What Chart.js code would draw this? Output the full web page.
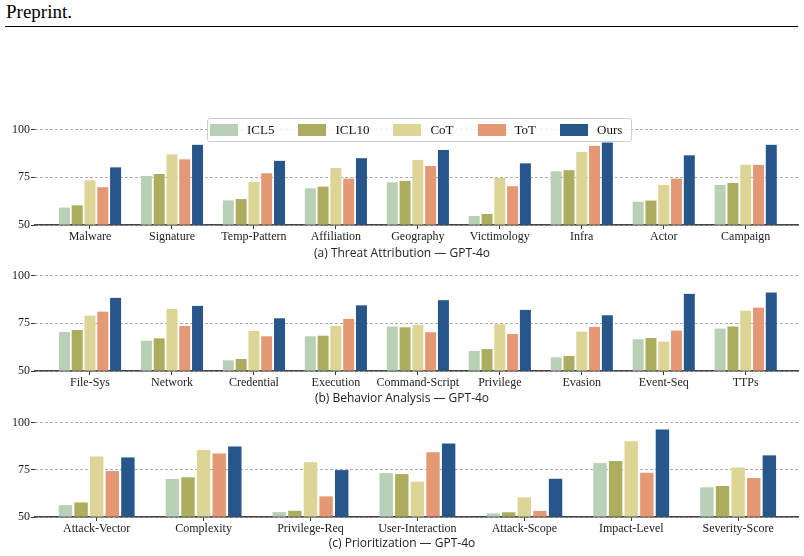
<!DOCTYPE html>
<html lang="en">
<head>
  <meta charset="UTF-8">
  <title>Threat analysis results — GPT-4o</title>
  <script src="https://cdn.jsdelivr.net/npm/chart.js"></script>
  <style>
    body {
      margin: 0;
      background: #fff;
    }
    #page {
      position: relative;
      width: 804px;
      height: 556px;
      overflow: hidden;
    }
    #page canvas {
      position: absolute;
      left: 0;
    }
    .header {
      position: absolute;
      left: 6px;
      top: 1px;
      font: 19px "Liberation Serif", "Times New Roman", serif;
      line-height: 22px;
      color: #000;
    }
    .rule {
      position: absolute;
      left: 5px;
      top: 26px;
      width: 793px;
      border-top: 1px solid #000;
    }
    .caption {
      position: absolute;
      left: 0;
      width: 804px;
      text-align: center;
      font: 12px "Open Sans", sans-serif;
      line-height: 16px;
      color: #222;
    }
    #legend {
      position: absolute;
      left: 207px;
      top: 118px;
      width: 421px;
      height: 22px;
      border: 1px solid #d0d0d0;
      border-radius: 3px;
      background: rgba(255, 255, 255, 0.8);
      display: flex;
      align-items: center;
      padding-left: 2px;
      z-index: 2;
      font: 13px "Liberation Serif", "Times New Roman", serif;
      color: #111;
    }
    .item {
      display: flex;
      align-items: center;
      margin-right: 24px;
    }
    .swatch {
      width: 28px;
      height: 12px;
      margin-right: 9px;
    }
  </style>
</head>
<body>
  <div id="page">
    <div class="header">Preprint.</div>
    <div class="rule"></div>

    <canvas id="chart-a" width="804" height="135" style="top:110px"></canvas>
    <canvas id="chart-b" width="804" height="135" style="top:256px"></canvas>
    <canvas id="chart-c" width="804" height="134" style="top:403px"></canvas>

    <div id="legend"></div>

    <div class="caption" style="top:245px">(a) Threat Attribution — GPT-4o</div>
    <div class="caption" style="top:390px">(b) Behavior Analysis — GPT-4o</div>
    <div class="caption" style="top:535px">(c) Prioritization — GPT-4o</div>
  </div>

  <script>
    // 系列
    const seriesNames = ['ICL5', 'ICL10', 'CoT', 'ToT', 'Ours'];
    const seriesColors = ['#b8d0b6', '#adad60', '#ddd595', '#e49874', '#27568b'];
    const yTicks = [50, 75, 100];

    // (a) Threat Attribution
    const attrCategories = ['Malware', 'Signature', 'Temp-Pattern', 'Affiliation', 'Geography',
                            'Victimology', 'Infra', 'Actor', 'Campaign'];
    const attrICL5  = [59.1, 75.7, 62.9, 69.2, 72.4, 54.7, 78.1, 62.2, 71.0];
    const attrICL10 = [60.3, 76.7, 63.6, 70.1, 73.1, 55.8, 78.7, 62.8, 72.0];
    const attrCoT   = [73.4, 87.0, 72.6, 79.9, 84.1, 74.7, 88.3, 71.0, 81.6];
    const attrToT   = [69.8, 84.4, 77.1, 74.3, 80.9, 70.3, 91.4, 74.3, 81.5];
    const attrOurs  = [80.2, 92.0, 83.6, 85.0, 89.3, 82.3, 93.2, 86.5, 92.0];

    // (b) Behavior Analysis
    const behCategories = ['File-Sys', 'Network', 'Credential', 'Execution', 'Command-Script',
                           'Privilege', 'Evasion', 'Event-Seq', 'TTPs'];
    const behICL5  = [70.5, 65.9, 55.6, 68.2, 73.3, 60.5, 57.2, 66.6, 72.2];
    const behICL10 = [71.5, 67.1, 56.3, 68.5, 72.9, 61.5, 57.9, 67.3, 73.3];
    const behCoT   = [79.0, 82.5, 71.0, 73.6, 74.1, 74.5, 70.6, 65.4, 81.6];
    const behToT   = [81.1, 73.6, 68.2, 77.3, 70.3, 69.4, 73.1, 71.2, 83.2];
    const behOurs  = [88.3, 84.1, 77.6, 84.4, 87.1, 82.0, 79.2, 90.4, 91.1];

    // (c) Prioritization
    const prioCategories = ['Attack-Vector', 'Complexity', 'Privilege-Req', 'User-Interaction',
                            'Attack-Scope', 'Impact-Level', 'Severity-Score'];
    const prioICL5  = [56.3, 70.1, 52.6, 73.2, 51.9, 78.5, 65.7];
    const prioICL10 = [57.7, 71.0, 53.3, 72.7, 52.5, 79.6, 66.4];
    const prioCoT   = [82.0, 85.4, 79.0, 68.7, 60.4, 90.1, 76.2];
    const prioToT   = [74.3, 83.6, 60.9, 84.3, 53.2, 73.4, 70.6];
    const prioOurs  = [81.5, 87.3, 74.8, 88.9, 70.2, 96.3, 82.6];

    const serifFont = { family: '"Liberation Serif", "Times New Roman", serif', size: 12 };

    function makeChart(canvasId, categories, rows, xMin, xMax, groupPct) {
      const datasets = rows.map((values, k) => ({
        label: seriesNames[k],
        data: values.map((v, i) => ({ x: i, y: v })),
        backgroundColor: seriesColors[k],
        borderWidth: 0,
        base: 50,
        categoryPercentage: groupPct,
        barPercentage: 0.86
      }));

      return new Chart(document.getElementById(canvasId), {
        type: 'bar',
        data: { datasets: datasets },
        options: {
          responsive: false,
          animation: false,
          devicePixelRatio: 1,
          layout: { padding: { top: 10, right: 6, left: 0, bottom: 0 } },
          plugins: {
            legend: { display: false },
            tooltip: { enabled: false }
          },
          scales: {
            x: {
              type: 'linear',
              min: xMin,
              max: xMax,
              offset: false,
              afterBuildTicks: (scale) => {
                scale.ticks = categories.map((c, i) => ({ value: i }));
              },
              afterFit: (scale) => { scale.height = 20; },
              ticks: {
                autoSkip: false,
                maxRotation: 0,
                padding: 1,
                color: '#222',
                font: serifFont,
                callback: (value) => categories[value]
              },
              grid: {
                offset: false,
                drawOnChartArea: false,
                tickLength: 4,
                tickColor: '#333',
                tickWidth: 1
              },
              border: { display: true, color: '#444', width: 1.5 }
            },
            y: {
              min: 50,
              max: 105,
              afterBuildTicks: (scale) => {
                scale.ticks = yTicks.map(v => ({ value: v }));
              },
              afterFit: (scale) => { scale.width = 35; },
              ticks: { padding: 1, color: '#222', font: serifFont },
              grid: {
                color: '#999',
                lineWidth: 0.8,
                tickLength: 4,
                tickColor: '#333',
                tickWidth: 1,
                tickBorderDash: []
              },
              border: { display: false, dash: [3, 2] }
            }
          }
        }
      });
    }

    makeChart('chart-a', attrCategories, [attrICL5, attrICL10, attrCoT, attrToT, attrOurs], -0.671, 8.638, 0.78);
    makeChart('chart-b', behCategories, [behICL5, behICL10, behCoT, behToT, behOurs], -0.671, 8.638, 0.78);
    makeChart('chart-c', prioCategories, [prioICL5, prioICL10, prioCoT, prioToT, prioOurs], -0.577, 6.56, 0.73);

    // 凡例
    const legend = document.getElementById('legend');
    seriesNames.forEach((name, k) => {
      const item = document.createElement('div');
      item.className = 'item';
      const swatch = document.createElement('span');
      swatch.className = 'swatch';
      swatch.style.background = seriesColors[k];
      const label = document.createElement('span');
      label.textContent = name;
      item.appendChild(swatch);
      item.appendChild(label);
      legend.appendChild(item);
    });
  </script>
</body>
</html>
